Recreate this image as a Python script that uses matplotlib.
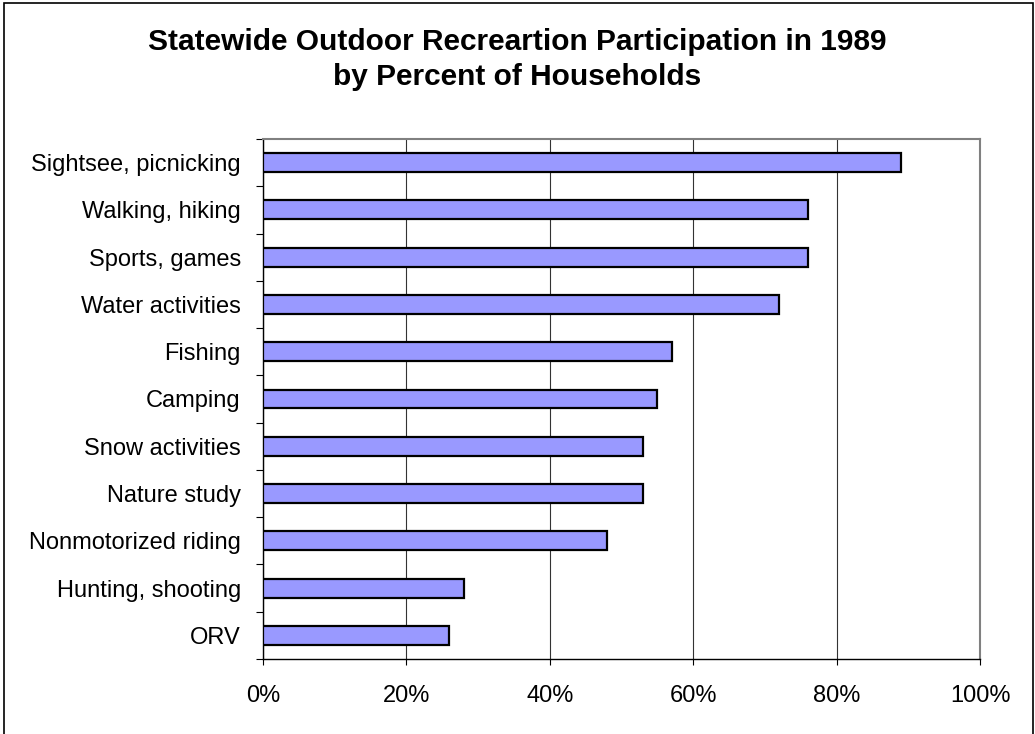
import matplotlib.pyplot as plt
import numpy as np
from matplotlib import ticker, patches

plt.rcParams["font.family"] = ["Liberation Sans", "DejaVu Sans"]

categories = [
    "Sightsee, picnicking",
    "Walking, hiking",
    "Sports, games",
    "Water activities",
    "Fishing",
    "Camping",
    "Snow activities",
    "Nature study",
    "Nonmotorized riding",
    "Hunting, shooting",
    "ORV",
]
percent = [89, 76, 76, 72, 57, 55, 53, 53, 48, 28, 26]
x_ticks = [0, 20, 40, 60, 80, 100]

W, H = 1035, 734
fig = plt.figure(figsize=(W / 100, H / 100), dpi=100)
ax = fig.add_axes([263 / W, 1 - 659 / H, (980 - 263) / W, (659 - 139) / H])

n = len(categories)
ypos = np.arange(n)[::-1]  # first category at top
ax.barh(ypos, percent, height=0.4, color="#9999FF", edgecolor="black",
        linewidth=1.6, zorder=3)

ax.set_xlim(0, 100)
ax.set_ylim(-0.5, n - 0.5)
ax.set_xticks(x_ticks)
ax.xaxis.set_major_formatter(ticker.FuncFormatter(lambda v, p: f"{v:.0f}%"))
ax.tick_params(axis="x", direction="out", length=4.5, width=0.8,
               labelsize=17, pad=14.5)

# Excel style: ticks between categories, labels in the middle
ax.set_yticks(np.arange(n + 1) - 0.5)
ax.set_yticklabels([])
ax.set_yticks(ypos, minor=True)
ax.set_yticklabels(categories, minor=True)
ax.tick_params(axis="y", which="major", direction="out", length=5, width=0.8)
ax.tick_params(axis="y", which="minor", length=0, labelsize=17, pad=16)

ax.grid(axis="x", color="#333333", linewidth=0.8, zorder=0)
ax.set_axisbelow(True)
for s in ["top", "right"]:
    ax.spines[s].set_color("#808080")
    ax.spines[s].set_linewidth(1.5)
for s in ["left", "bottom"]:
    ax.spines[s].set_color("black")
    ax.spines[s].set_linewidth(1.0)

fig.text(0.5, 1 - 50 / H, "Statewide Outdoor Recreartion Participation in 1989",
         ha="center", va="baseline", fontsize=21.5, fontweight="bold")
fig.text(0.5, 1 - 85 / H, "by Percent of Households",
         ha="center", va="baseline", fontsize=21.5, fontweight="bold")

# chart area border
fig.add_artist(patches.Rectangle((4 / W, -0.05), (1033 - 4) / W, 1.05 - 2.5 / H,
                                 transform=fig.transFigure, fill=False,
                                 edgecolor="black", linewidth=1.2))

fig.savefig("out.png", dpi=100)
